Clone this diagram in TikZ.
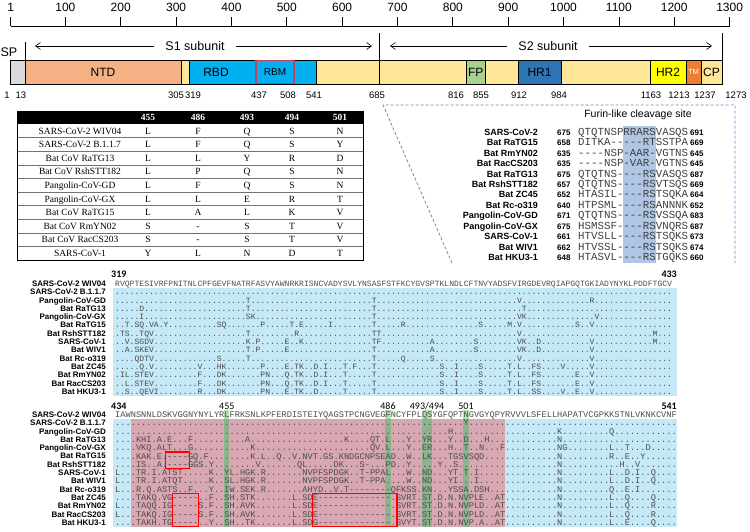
\documentclass[tikz,border=0pt]{standalone}
\usepackage{fontspec}
\setmainfont{Liberation Sans}
\setmonofont{Liberation Mono}
\newfontfamily\timesf{Liberation Serif}
\newfontfamily\calf{Carlito}
\usetikzlibrary{arrows.meta}

\definecolor{ntd}{HTML}{F4B183}
\definecolor{ylw}{HTML}{FFE699}
\definecolor{rbd}{HTML}{00B0F0}
\definecolor{hrone}{HTML}{2E75B6}
\definecolor{fpc}{HTML}{A9D18E}
\definecolor{hrtwo}{HTML}{FFFF00}
\definecolor{tmc}{HTML}{ED7D31}
\definecolor{spc}{HTML}{D9D9D9}
\definecolor{alnblue}{HTML}{C5E9F6}
\definecolor{alnpink}{HTML}{D8A7B1}
\definecolor{grnA}{HTML}{B5DDB5}
\definecolor{grnB}{HTML}{8DB38D}
\definecolor{furhl}{HTML}{AFC6E4}
\definecolor{dashc}{HTML}{5B8DBE}
\definecolor{rbmc}{HTML}{C8405A}

\def\Dx{..........}
% top block 319-433 (115 residues)
\def\sqTa{{RVQPTESIVR}{FPNITNLCPF}{GEVFNATRFA}{SVYAWNRKRI}{SNCVADYSVL}{YNSASFSTFK}{CYGVSPTKLN}{DLCFTNVYAD}{SFVIRGDEVR}{QIAPGQTGKI}{ADYNYKLPDD}{FTGCV}}
\def\sqTb{\Dx\Dx\Dx\Dx\Dx\Dx\Dx\Dx\Dx\Dx\Dx{.....}}
\def\sqTc{\Dx\Dx{.......T..}\Dx\Dx{...T......}\Dx\Dx{...V......}{........R.}\Dx{.....}}
\def\sqTd{{.....D....}\Dx{.......T..}\Dx\Dx{...T......}\Dx\Dx{....T.....}\Dx\Dx{.....}}
\def\sqTe{{.....I....}\Dx{.......SK.}\Dx\Dx{...T......}\Dx\Dx{...VK.....}{.........V}\Dx{.....}}
\def\sqTf{{..T.SQ.VA.}{Y.........}{.SQ.......}{P.....T.E.}{....I.....}{...T.....R}\Dx{.....S....}{.M.V......}{.....S..V.}\Dx{.....}}
\def\sqTg{{.TS..TQV..}\Dx{.......T..}{.......R..}\Dx{...TT.....}\Dx\Dx{...V......}\Dx\Dx{.M...}}
\def\sqTh{{..V.SGDV..}\Dx{.......K.P}{.....E..K.}\Dx{...TF.....}{.....A....}{....S.....}{...VK..D..}{........V.}\Dx{.M...}}
\def\sqTi{{..A.SKEV..}\Dx{.......T.P}{.....E....}\Dx{...T......}{.....A....}{....S.....}{...VK..D..}{........V.}\Dx{.....}}
\def\sqTj{{....QDTV..}\Dx{.S.....T..}\Dx\Dx{...T.....Q}{.....S....}\Dx{...V......}{........V.}\Dx{.....}}
\def\sqTk{{.....Q.V..}{.......V..}{.HK.......}{P....E.TK.}{.D.I...T.F}{...T......}{.......S..}{I....S....}{.T.L..FS..}{..V.....V.}\Dx{.....}}
\def\sqTl{{.IL.STEV..}{.......F..}{.DK.......}{PN...Q.TK.}{.D.I...T..}{...T......}{.......S..}{I....S....}{.T.L..FS..}{.....E..V.}\Dx{.....}}
\def\sqTm{{..L.STEV..}{.......F..}{.DK.......}{PN...Q.TK.}{.D.I...T..}{...T......}{.......S..}{I....S....}{.T.L..FS..}{.....E..V.}\Dx{.....}}
\def\sqTn{{..S..QEVI.}{.......R..}{.DK.......}{PN...E.TK.}{.D.....T..}{...T......}{.......S..}{I....S....}{.T.L..SS..}{..V..E..V.}\Dx{.....}}
% bottom block 434-541 (108 residues)
\def\sqBa{{IAWNSNNLDS}{KVGGNYNYLY}{RLFRKSNLKP}{FERDISTEIY}{QAGSTPCNGV}{EGFNCYFPLQ}{SYGFQPTNGV}{GYQPYRVVVL}{SFELLHAPAT}{VCGPKKSTNL}{VKNKCVNF}}
\def\sqBb{\Dx\Dx\Dx\Dx\Dx\Dx{.......Y..}\Dx\Dx\Dx{........}}
\def\sqBc{\Dx\Dx\Dx\Dx\Dx\Dx{....H.....}\Dx{.....K....}{.....Q....}{........}}
\def\sqBd{{....KHI.A.}{E...F.....}{.....A....}\Dx{....K....Q}{T.L...Y..Y}{R...Y..D..}{.H........}{.....N....}\Dx{........}}
\def\sqBe{{....VKQ.AL}{T...G.....}{......K...}\Dx{.........Q}{V.L...Y..E}{R...H..T..}{N...F.....}{.....NG...}{.....L..T.}{..D.....}}
\def\sqBf{{....KAK.E.}{----GQ.F..}{......K.L.}{.Q..V.NVT.}{GS.KNDGCNP}{SEAD..W..L}{K...TGSVSQ}{D.........}{.....N....}{.....R..E.}{.Y......}}
\def\sqBg{{....IS..A.}{----GGS.Y.}{.......V..}{.....QL...}{..DK...S-.}{..PD..Y...}{..Y..S....}\Dx{.....N....}{.......H..}{V.......}}
\def\sqBh{{L...TR.I.A}{TST.....K.}{.YL.HGK.R.}{......NVPF}{SPDGK..T-P}{PAL...W..N}{D...YT.T.I}\Dx{.....N....}{.....L..D.}{I..Q....}}
\def\sqBi{{L...TR.I.A}{TQT.....K.}{.SL.HGK.R.}{......NVPF}{SPDGK..T-P}{PA....W..N}{D...YI...I}\Dx{.....N....}{.....L..D.}{I..Q....}}
\def\sqBj{{L...R.Q.AS}{TS..F...Y.}{.IW.SEK.R.}{......AHYD}{..V.T-----}{---QFKSS.K}{N...YSSA.D}{SH........}{.....N....}{.....Q..E.}{I.......}}
\def\sqBk{{....TAKQ.V}{G-----..F.}{.SH.STK...}{....L.SDE-}{----------}{---.SVRT.S}{T.D.N.NVPL}{E..AT.....}{.....N....}{.....L..Q.}{...Q....}}
\def\sqBl{{L...TAQQ.I}{G-----S.F.}{.SH.AVK...}{....L.SDE-}{----------}{---.SVRT.S}{T.D.N.NVPL}{D..AT.....}{.....N....}{.....L..Q.}{...R....}}
\def\sqBm{{L...TAKQ.I}{G-----S.F.}{.SH.AVK...}{....L.SDE-}{----------}{---.SVRT.S}{T.D.N.NVPL}{D..AT.....}{.....N....}{.....L..Q.}{...R....}}
\def\sqBn{{....TAKH.T}{G-----..Y.}{.SH..TK...}{....L.SDG-}{----------}{---.SVYT.S}{T.D.N.NVP.}{A..AT.....}{.....N....}{.....L..E.}{...Q....}}

\tikzset{
 myRul/.style={font=\fontsize{12}{14}\selectfont, inner sep=0},
 myNum/.style={font=\fontsize{9.5}{11}\selectfont, inner sep=0},
 mySeg/.style={draw=black, line width=0.6pt, minimum height=24pt, inner sep=0, font=\fontsize{12}{14}\selectfont},
 mySub/.style={font=\fontsize{12.5}{14}\selectfont, inner xsep=11pt, inner ysep=2pt},
 myArr/.style={-{Straight Barb[length=5pt,width=7pt]}, line width=0.6pt},
 myTab/.style={font=\timesf\fontsize{9.5}{11}\selectfont, inner sep=0, anchor=base},
 myTabH/.style={font=\timesf\bfseries\fontsize{9.5}{11}\selectfont, text=white, inner sep=0, anchor=base},
 myFurN/.style={font=\bfseries\fontsize{9}{10}\selectfont, inner sep=0, anchor=base east},
 myFurNum/.style={font=\bfseries\fontsize{8}{10}\selectfont, inner sep=0, anchor=base west},
 myFurSeq/.style={font=\ttfamily\fontsize{10.78}{12}\selectfont, text=black!75, inner sep=0, anchor=base west},
 myAlN/.style={font=\bfseries\fontsize{8}{9}\selectfont, inner sep=0, anchor=base east},
 mySqT/.style={font=\ttfamily\fontsize{8.07}{9}\selectfont, text=black!70, inner sep=0, anchor=base west},
 mySqB/.style={font=\ttfamily\fontsize{8.667}{9}\selectfont, text=black!70, inner sep=0, anchor=base west},
 myPos/.style={font=\calf\fontsize{10}{11}\selectfont, inner sep=0, anchor=base},
 myPosB/.style={font=\calf\bfseries\fontsize{10}{11}\selectfont, inner sep=0},
 myRed/.style={draw=red, line width=1.4pt},
}

\begin{document}
\begin{tikzpicture}[x=1pt,y=-1pt]
\useasboundingbox (0,0) rectangle (750,532);

% ---------- ruler ----------
\draw[line width=0.7pt] (10.6,26) -- (729.6,26);
\foreach \n in {1,100,200,...,1300}{
  \draw[line width=0.7pt] ({10.6+(\n-1)*0.5535},17) -- ({10.6+(\n-1)*0.5535},26);
  \node[myRul] (rl\n) at ({10.6+(\n-1)*0.5535},7) {\n};
}

% ---------- domain bar ----------
\node[mySeg, fill=ylw, minimum width=711.5pt] (bar) at (366.25,72) {};
\node[mySeg, fill=spc, minimum width=14.5pt] (sp) at (17.75,72) {};
\node[mySeg, fill=ntd, minimum width=156pt] (ntd) at (103,72) {NTD};
\node[mySeg, fill=rbd, minimum width=127pt] (rbd) at (252.5,72) {};
\node[font=\fontsize{12}{14}\selectfont, inner sep=0] (rbdl) at (216,72) {RBD};
\node[mySeg, draw=rbmc, line width=1.1pt, fill=rbd, minimum width=38pt, minimum height=23pt, font=\fontsize{10}{12}\selectfont] (rbm) at (275,72) {RBM};
\node[mySeg, fill=fpc, minimum width=18.5pt] (fp) at (475.75,72) {FP};
\node[mySeg, fill=hrone, minimum width=43pt] (hr1) at (539.5,72) {HR1};
\node[mySeg, fill=hrtwo, minimum width=36pt] (hr2) at (668,72) {HR2};
\node[mySeg, fill=tmc, minimum width=15pt, text=white, font=\fontsize{7.5}{9}\selectfont] (tm) at (693.5,72) {TM};
\node[mySeg, fill=ylw, minimum width=21pt] (cp) at (711.5,72) {CP};

\draw[line width=0.7pt] (25,42) -- (25,60);
\draw[line width=0.7pt] (379,33) -- (379,84);
\draw[line width=0.7pt] (722,33) -- (722,60);

\node[font=\fontsize{12.5}{14}\selectfont, inner sep=0] (splab) at (9,52) {SP};
\node[mySub] (s1) at (195,46) {S1 subunit};
\coordinate (s1a) at (35,46); \coordinate (s1b) at (372,46);
\draw[myArr] (s1.west) -- (s1a); \draw[myArr] (s1.east) -- (s1b);
\node[mySub] (s2) at (548,46) {S2 subunit};
\coordinate (s2a) at (390,46); \coordinate (s2b) at (712,46);
\draw[myArr] (s2.west) -- (s2a); \draw[myArr] (s2.east) -- (s2b);

\foreach \t/\x in {1/7, 13/21, 305/176, 319/193, 437/259, 508/288, 541/314, 685/377, 816/456, 855/481, 912/519, 984/559, 1163/651, 1213/679, 1237/705, 1273/736}
  \node[myNum] (nb\t) at (\x,95) {\t};

% ---------- table ----------
\node[fill=black, minimum width=346pt, minimum height=13pt, inner sep=0] (thead) at (190,117.5) {};
\foreach \h/\x in {455/148, 486/198, 493/247, 494/292, 501/340}
  \node[myTabH] (th\h) at (\x,121) {\h};
\foreach \k in {1,...,9}
  \draw[black!55, line width=0.4pt] (17,{124+13.6*\k}) -- (363,{124+13.6*\k});
\node[draw, line width=0.6pt, minimum width=346pt, minimum height=149pt, inner sep=0] (tbox) at (190,185.5) {};
\foreach \nm/\a/\b/\c/\d/\e [count=\i] in {SARS-CoV-2 WIV04/L/F/Q/S/N, SARS-CoV-2 B.1.1.7/L/F/Q/S/Y, Bat CoV RaTG13/L/L/Y/R/D, Bat CoV RshSTT182/L/P/Q/S/N, Pangolin-CoV-GD/L/F/Q/S/N, Pangolin-CoV-GX/L/L/E/R/T, Bat CoV RaTG15/L/A/L/K/V, Bat CoV RmYN02/S/-/S/T/V, Bat CoV RacCS203/S/-/S/T/V, SARS-CoV-1/Y/L/N/D/T}{
  \pgfmathsetmacro\yb{124+13.6*(\i-0.5)+3.3}
  \node[myTab] (tn\i) at (80,\yb) {\nm};
  \node[myTab] (ta\i) at (148,\yb) {\a};
  \node[myTab] (tb\i) at (198,\yb) {\b};
  \node[myTab] (tc\i) at (247,\yb) {\c};
  \node[myTab] (td\i) at (292,\yb) {\d};
  \node[myTab] (te\i) at (340,\yb) {\e};
}

% ---------- furin panel ----------
\coordinate (fA) at (383,105); \coordinate (fB) at (735,105);
\coordinate (fC) at (735,263); \coordinate (fD) at (452,263);
\draw[dashc, line width=0.8pt, dash pattern=on 3pt off 2pt] (fD) -- (fA) -- (fB) -- (fC);
\fill[furhl] (623.3,126) rectangle (655.5,263);
\node[font=\fontsize{10.5}{12}\selectfont, inner sep=0] (furt) at (638,115) {Furin-like cleavage site};
\foreach \nm/\st/\sq/\en [count=\i] in {SARS-CoV-2/675/QTQTNSPRRARSVASQS/691, Bat RaTG15/658/DITKA-----RTSSTPA/669, Bat RmYN02/635/----NSP-AAR-VGTNS/645, Bat RacCS203/635/----NSP-VAR-VGTNS/645, Bat RaTG13/675/QTQTNS----RSVASQS/687, Bat RshSTT182/657/QTQTNS----RSVTSQS/669, Bat ZC45/652/HTASIL----RSTSQKA/664, Bat Rc-o319/640/HTPSML----RSANNNK/652, Pangolin-CoV-GD/671/QTQTNS----RSVSSQA/683, Pangolin-CoV-GX/675/HSMSSF----RSVNQRS/687, SARS-CoV-1/661/HTVSLL----RSTSQKS/673, Bat WIV1/662/HTVSSL----RSTSQKS/674, Bat HKU3-1/648/HTASVL----RSTGQKS/660}{
  \pgfmathsetmacro\yb{132+10.42*(\i-1)+3.4}
  \node[myFurN] (fn\i) at (538,\yb) {\nm};
  \node[myFurNum] (fs\i) at (557,\yb) {\st};
  \node[myFurSeq] (fq\i) at (578,\yb) {\sq};
  \node[myFurNum] (fe\i) at (690,\yb) {\en};
}

% ---------- alignment backgrounds ----------
\fill[alnblue] (113,287.6) rectangle (677,395.5);
\fill[alnblue] (113,418.7) rectangle (677,526.6);
\fill[alnpink] (130.6,418.7) rectangle (505,526.6);
\foreach \xa/\w in {224.2/5.2, 385.4/5.2, 421.8/10.4, 463.4/5.2}{
  \fill[grnA] (\xa,410.4) rectangle ({\xa+\w},418.7);
  \fill[grnB] (\xa,418.7) rectangle ({\xa+\w},526.6);
}

% ---------- alignment labels ----------
\node[myPosB, anchor=base west] (p319) at (111,277) {319};
\node[myPosB, anchor=base east] (p433) at (677,277) {433};
\node[myPosB, anchor=base west] (p434) at (111,409) {434};
\node[myPos] (p455) at (226.8,409) {455};
\node[myPos] (p486) at (388,409) {486};
\node[myPos] (p493) at (427,409) {493/494};
\node[myPos] (p501) at (466,409) {501};
\node[myPosB, anchor=base east] (p541) at (677,409) {541};

\foreach \nm [count=\i] in {SARS-CoV-2 WIV04, SARS-CoV-2 B.1.1.7, Pangolin-CoV-GD, Bat RaTG13, Pangolin-CoV-GX, Bat RaTG15, Bat RshSTT182, SARS-CoV-1, Bat WIV1, Bat Rc-o319, Bat ZC45, Bat RmYN02, Bat RacCS203, Bat HKU3-1}{
  \node[myAlN] (an\i) at (106,{283.5+(\i-1)*8.3+2.9}) {\nm};
  \node[myAlN] (bn\i) at (106,{414.5+(\i-1)*8.3+2.9}) {\nm};
}
\foreach \s [count=\i] in {\sqTa,\sqTb,\sqTc,\sqTd,\sqTe,\sqTf,\sqTg,\sqTh,\sqTi,\sqTj,\sqTk,\sqTl,\sqTm,\sqTn}
  \node[mySqT] (ts\i) at (115,{283.5+(\i-1)*8.3+2.9}) {\s};
\foreach \s [count=\i] in {\sqBa,\sqBb,\sqBc,\sqBd,\sqBe,\sqBf,\sqBg,\sqBh,\sqBi,\sqBj,\sqBk,\sqBl,\sqBm,\sqBn}
  \node[mySqB] (bs\i) at (115,{414.5+(\i-1)*8.3+3.0}) {\s};

% ---------- red boxes ----------
\draw[myRed] (165.4,451.9) rectangle (189.4,468.5);
\draw[myRed] (172.2,493.4) rectangle (198.7,526.6);
\draw[myRed] (312.5,493.4) rectangle (397,526.6);
\end{tikzpicture}
\end{document}
